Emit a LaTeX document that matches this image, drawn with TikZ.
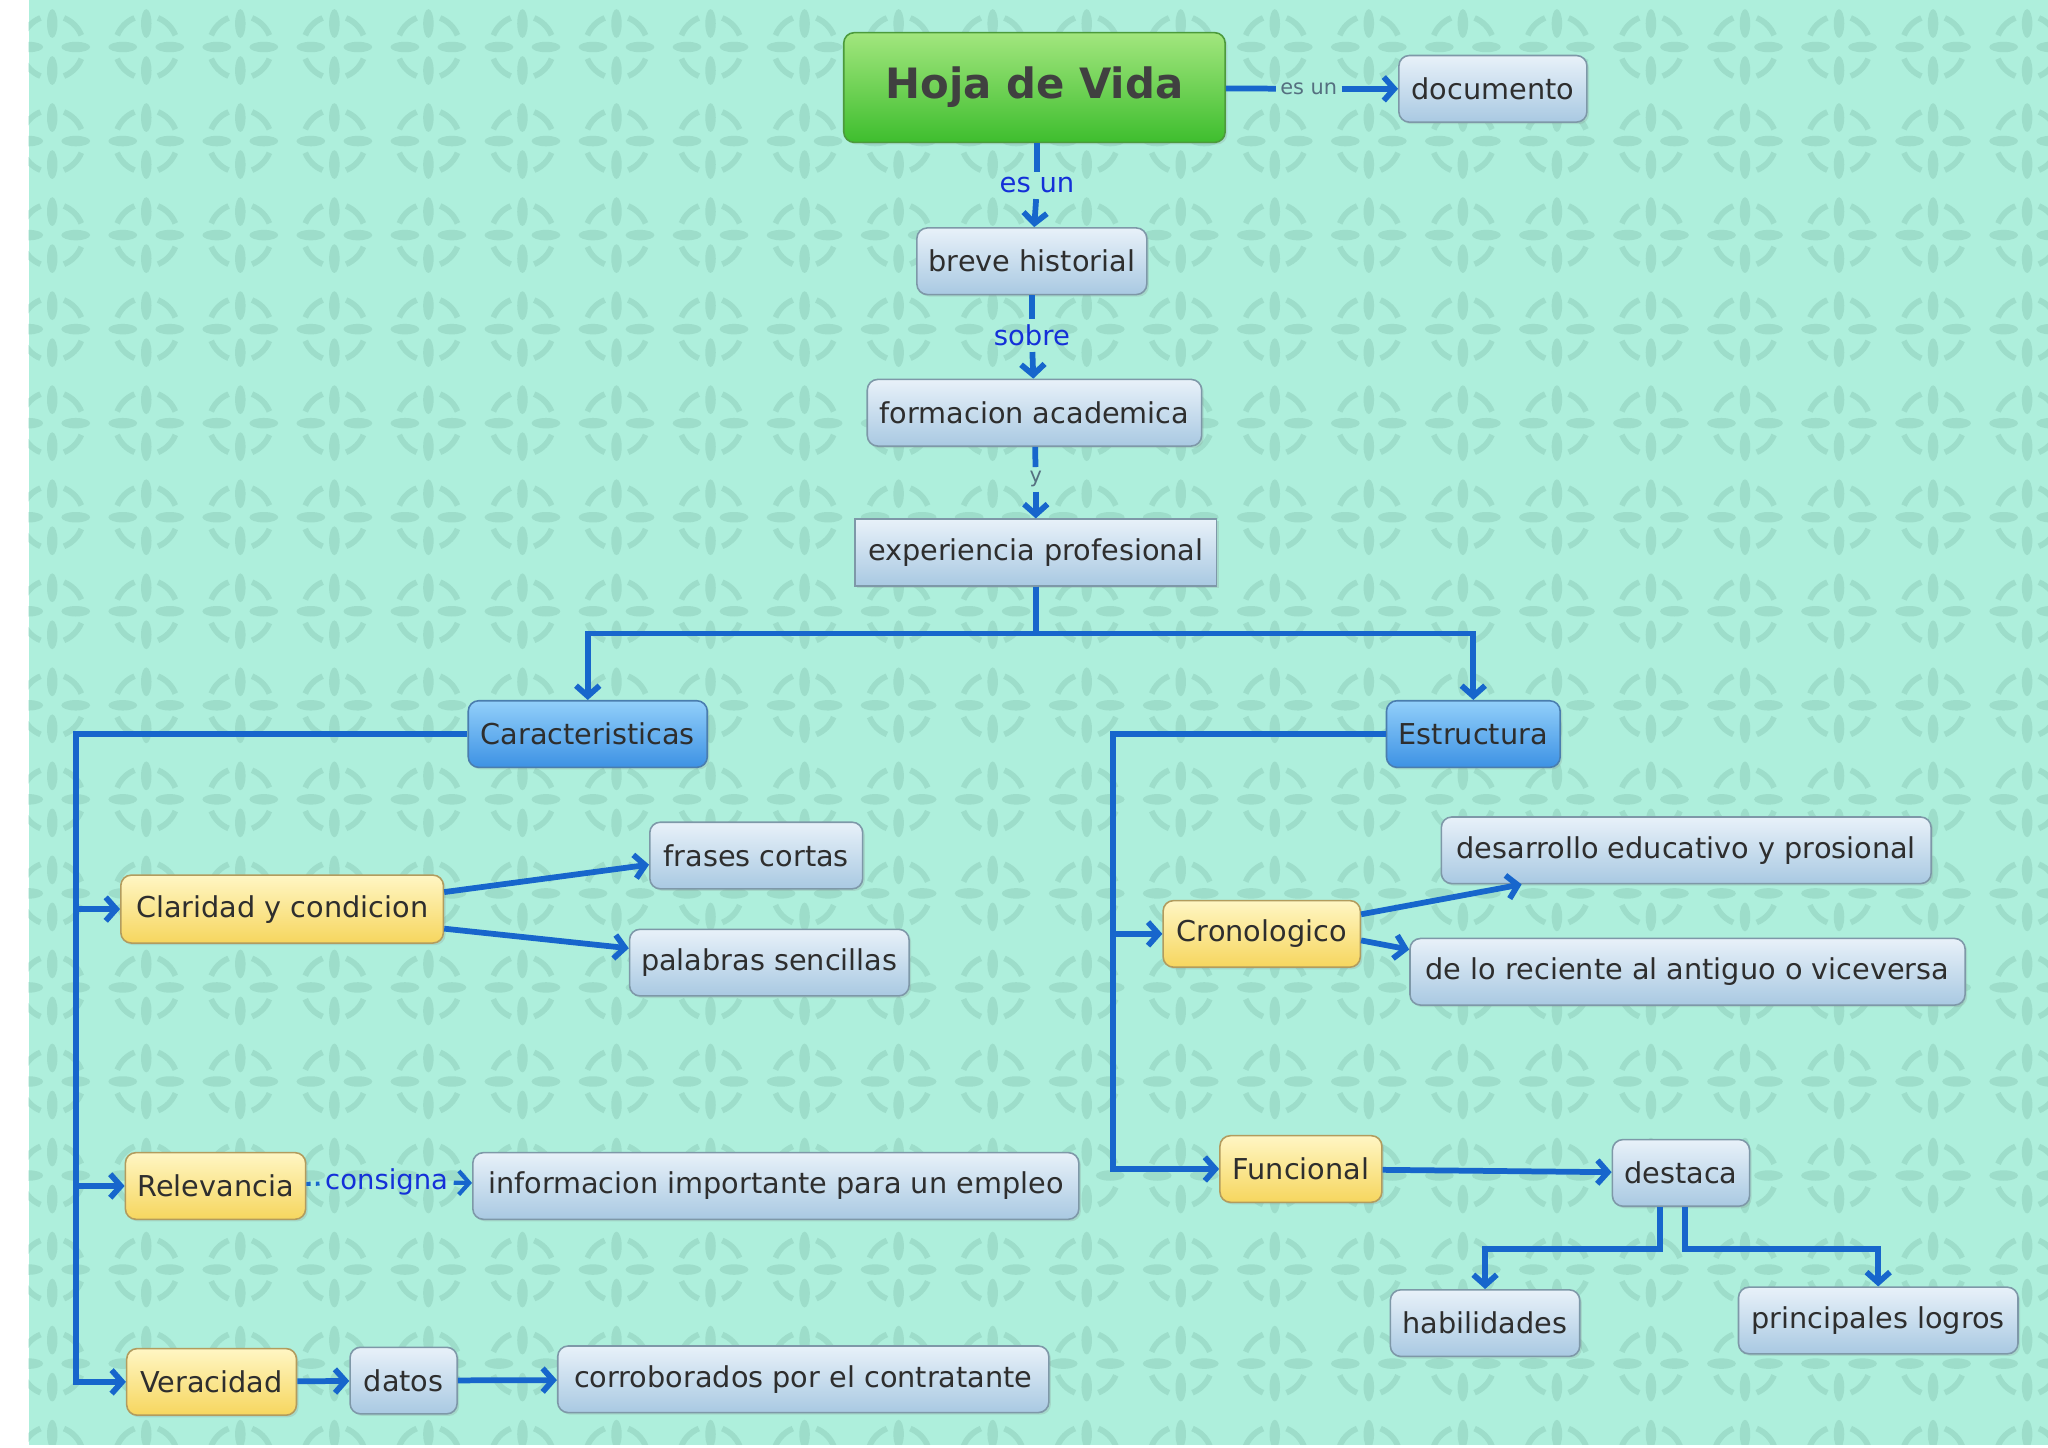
\documentclass[tikz,border=0pt]{standalone}
\usepackage{fontspec}
\setmainfont{DejaVu Sans}
\usepackage{tikz}
\usetikzlibrary{positioning,arrows.meta,shadows}

\definecolor{mint}{HTML}{AEEFDC}
\definecolor{mintdark}{HTML}{9DDDCA}
\definecolor{linkblue}{HTML}{1766CC}
\definecolor{lblblue}{HTML}{1430D8}
\definecolor{lblgray}{HTML}{557080}
\definecolor{txtgray}{HTML}{2E2E2E}
\definecolor{conctop}{HTML}{E8F1F9}
\definecolor{concbot}{HTML}{A9C9E2}
\definecolor{concline}{HTML}{7E98A8}
\definecolor{cattop}{HTML}{92CFFA}
\definecolor{catbot}{HTML}{3D92E4}
\definecolor{catline}{HTML}{4A7DAE}
\definecolor{subtop}{HTML}{FFF6C4}
\definecolor{subbot}{HTML}{F6D65E}
\definecolor{subline}{HTML}{B29C5E}
\definecolor{roottop}{HTML}{A2E67E}
\definecolor{rootbot}{HTML}{3EBE2E}
\definecolor{rootline}{HTML}{4C9A3C}

\tikzset{
  box/.style={rounded corners=4pt, line width=0.6pt, inner sep=0pt,
    minimum height=25.5pt, text=txtgray, font=\fontsize{11}{13}\selectfont,
    drop shadow={opacity=0.2, shadow xshift=0.8pt, shadow yshift=-0.8pt}},
  concept/.style={box, draw=concline, top color=conctop, bottom color=concbot},
  cat/.style={box, draw=catline, top color=cattop, bottom color=catbot},
  sub/.style={box, draw=subline, top color=subtop, bottom color=subbot},
  root/.style={box, draw=rootline, top color=roottop, bottom color=rootbot,
    text=black!75, font=\fontsize{16}{19}\selectfont\bfseries},
  link/.style={draw=linkblue, line width=2.2pt},
  arr/.style={link, ->},
  lbl/.style={text=lblblue, font=\fontsize{10.5}{12}\selectfont, inner sep=2pt},
  tiny/.style={text=lblgray, font=\fontsize{8}{9}\selectfont, inner sep=1.5pt}
}

\begin{document}
\begin{tikzpicture}[x=0.5pt, y=-0.5pt, >={Straight Barb[length=4pt,width=9pt]}]
	% background with tiled ornament
	\fill[white] (0,0) rectangle (1568,1108.6);
	\fill[mint] (22,0) rectangle (1568,1106);
	\begin{scope}
		\clip (22,0) rectangle (1568,1106);
		\foreach \i in {0,...,21}{
			\foreach \j in {0,...,15}{
				\begin{scope}[shift={(40+72*\i,36+72*\j)}, mintdark]
					\fill (0,9pt) ellipse [x radius=2pt, y radius=5.5pt];
					\fill (0,-9pt) ellipse [x radius=2pt, y radius=5.5pt];
					\fill (9pt,0) ellipse [x radius=5.5pt, y radius=2pt];
					\fill (-9pt,0) ellipse [x radius=5.5pt, y radius=2pt];
					\foreach \a in {0,90,180,270}
						\draw[line width=2.2pt] (\a+22:12pt) arc [start angle=\a+22, end angle=\a+68, radius=12pt];
				\end{scope}
			}
		}
	\end{scope}
	\useasboundingbox (0,0) rectangle (1568,1108.6);

	% main column
	\node[root, minimum width=146pt, minimum height=42pt] (hoja) at (792,67) {Hoja de Vida};
	\node[concept, minimum width=72pt] (doc) at (1143,68) {documento};
	\node[concept, minimum width=88pt] (breve) at (790,200) {breve historial};
	\node[concept, minimum width=128pt] (form) at (792,316) {formacion academica};
	\node[concept, sharp corners, minimum width=138.5pt] (exp) at (793,423) {experiencia profesional};
	\node[cat, minimum width=91.5pt] (car) at (450,562) {Caracteristicas};
	\node[cat, minimum width=66.5pt] (est) at (1128,562) {Estructura};

	% left branch
	\node[sub, minimum width=123.5pt, minimum height=26pt] (clar) at (216,696) {Claridad y condicion};
	\node[concept, minimum width=81.5pt] (fra) at (579,655) {frases cortas};
	\node[concept, minimum width=107pt] (pal) at (589,737) {palabras sencillas};
	\node[sub, minimum width=69pt] (rel) at (165,908) {Relevancia};
	\node[concept, minimum width=232pt] (inf) at (594,908) {informacion importante para un empleo};
	\node[sub, minimum width=65pt] (ver) at (162,1058) {Veracidad};
	\node[concept, minimum width=41pt] (dat) at (309,1057) {datos};
	\node[concept, minimum width=188pt] (cor) at (615,1056) {corroborados por el contratante};

	% right branch
	\node[sub, minimum width=75.5pt] (cron) at (966,715) {Cronologico};
	\node[concept, minimum width=187.5pt] (des) at (1291,651) {desarrollo educativo y prosional};
	\node[concept, minimum width=212.5pt] (rec) at (1292,744) {de lo reciente al antiguo o viceversa};
	\node[sub, minimum width=62pt] (func) at (996,895) {Funcional};
	\node[concept, minimum width=52.5pt] (dest) at (1287,898) {destaca};
	\node[concept, minimum width=72.5pt] (hab) at (1137,1013) {habilidades};
	\node[concept, minimum width=107pt] (log) at (1438,1011) {principales logros};

	% link labels
	\node[tiny] (esun0) at (1002,68) {es un};
	\node[lbl] (esun1) at (794,142) {es un};
	\node[lbl] (sobre) at (790,257) {sobre};
	\node[tiny] (yy) at (793,367) {y};
	\node[lbl] (cons) at (296,905) {consigna};

	\coordinate (ltrunk) at (58,1058);
	\coordinate (rtrunk) at (852,895);

	% connectors
	\draw[link] (hoja) -- (esun0);
	\draw[arr] (esun0) -- (doc);
	\draw[link] (hoja.south -| esun1) -- (esun1);
	\draw[arr] (esun1) -- (breve);
	\draw[link] (breve) -- (sobre);
	\draw[arr] (sobre) -- (form);
	\draw[link] (form) -- (yy);
	\draw[arr] (yy) -- (exp);
	\draw[arr] (exp.south) -- ++(0,36) -| (car.north);
	\draw[arr] (exp.south) -- ++(0,36) -| (est.north);

	\draw[arr] (car.west) -| (ltrunk) -- (ver.west);
	\draw[arr] (clar.west -| ltrunk) -- (clar.west);
	\draw[arr] (rel.west -| ltrunk) -- (rel.west);
	\draw[arr] ([yshift=6.5pt]clar.east) -- ([yshift=-3.5pt]fra.west);
	\draw[arr] ([yshift=-7.5pt]clar.east) -- ([yshift=5.5pt]pal.west);
	\draw[link, line width=1.6pt, dotted] (rel) -- (cons);
	\draw[arr, line width=1.6pt] (cons) -- (inf);
	\draw[arr] (ver) -- (dat);
	\draw[arr] (dat) -- (cor);

	\draw[arr] (est.west) -| (rtrunk) -- (func.west);
	\draw[arr] (cron.west -| rtrunk) -- (cron.west);
	\draw[arr] ([yshift=7.5pt]cron.east) -- ([xshift=-63pt]des.south);
	\draw[arr] ([yshift=-2.5pt]cron.east) -- ([yshift=8.5pt]rec.west);
	\draw[arr] (func) -- (dest);
	\draw[arr] ([xshift=-8pt]dest.south) -- ++(0,32) -| (hab.north);
	\draw[arr] ([xshift=1.5pt]dest.south) -- ++(0,32) -| (log.north);
\end{tikzpicture}
\end{document}
